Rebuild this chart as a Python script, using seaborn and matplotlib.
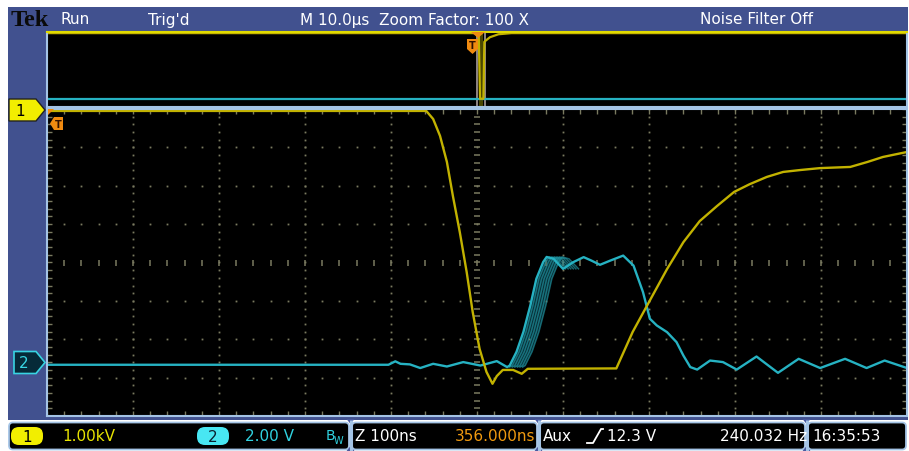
import numpy as np
import matplotlib
matplotlib.use("Agg")
import matplotlib.pyplot as plt
import seaborn as sns
from matplotlib.patches import Rectangle, FancyBboxPatch, Polygon
from matplotlib import font_manager

# ---------------- data ----------------
# Channel 1 (1.00 kV/div), zoomed time base 100 ns/div, time from left edge
ch1_t_ns = [0, 441, 449, 457, 465, 472, 480, 488, 495, 503,
            511, 518, 523, 530, 542, 552, 559, 662, 681, 700,
            721, 740, 759, 779, 799, 817, 837, 856, 876, 899,
            934, 954, 972, 1000]
ch1_kv = [-0.05, -0.05, -0.26, -0.70, -1.38, -2.27, -3.21, -4.25, -5.29, -6.25,
          -6.85, -7.16, -6.96, -6.80, -6.80, -6.90, -6.77, -6.76, -5.81, -5.03,
          -4.17, -3.47, -2.92, -2.53, -2.16, -1.96, -1.77, -1.64, -1.59, -1.54,
          -1.51, -1.38, -1.25, -1.12]

# Channel 2 (2.00 V/div)
ch2_t_ns = [0, 397, 405, 411, 422, 434, 449, 465, 484, 504,
            523, 535, 538, 546, 554, 562, 569, 577, 581, 589,
            600, 612, 624, 633, 643, 655, 670, 682, 693, 701,
            709, 721, 732, 740, 748, 756, 771, 786, 802, 825,
            850, 874, 899, 928, 953, 974, 1000]
ch2_v = [-0.13, -0.13, 0.05, -0.08, -0.11, -0.30, -0.08, -0.22, 0.01, -0.17,
         0.06, -0.25, -0.17, 0.55, 1.59, 2.96, 4.35, 5.23, 5.49, 5.39,
         4.87, 5.22, 5.48, 5.30, 5.08, 5.30, 5.56, 5.04, 3.66, 2.27,
         1.92, 1.57, 1.05, 0.35, -0.25, -0.38, 0.09, 0.01, -0.38, 0.30,
         -0.55, 0.18, -0.30, 0.18, -0.30, 0.09, -0.30]
# persistence (earlier acquisitions of the ch2 rising edge), delay in ns
persist_delay_ns = [3, 6, 9, 12, 15, 18]

# Record overview window (10 us/div), levels as fraction of window height
rec_t_us = [0, 50.2, 50.35, 50.75, 50.85, 51.5, 52.5, 54.0, 100]
rec_ch1 = [0.985, 0.985, 0.11, 0.11, 0.87, 0.93, 0.97, 0.985, 0.985]
rec_ch2_t_us = [0, 100]
rec_ch2 = [0.113, 0.113]

ch1_scale_kv, ch1_pos_div = 1.0, 4.0
ch2_scale_v, ch2_pos_div = 2.0, -2.6

header_texts = ["Run", "Trig'd", "M 10.0\u00b5s  Zoom Factor: 100 X", "Noise Filter Off"]

# ---------------- style ----------------
W, H = 909, 452
BLUE = "#41518f"
LIGHT = "#a4c4e6"
YEL = "#c2b200"
CYN = "#26b2c2"
GRID = "#7a7a60"
ORANGE = "#f08a10"

names = {f.name for f in font_manager.fontManager.ttflist}
NARROW = "Liberation Sans Narrow" if "Liberation Sans Narrow" in names else "DejaVu Sans"
FS = 13.5 if NARROW != "DejaVu Sans" else 11
plt.rcParams["font.family"] = [NARROW, "DejaVu Sans"]

fig = plt.figure(figsize=(W / 100, H / 100), dpi=100)
fig.patch.set_facecolor("white")


def pax(x0, y0, x1, y1):
    return [x0 / W, 1 - y1 / H, (x1 - x0) / W, (y1 - y0) / H]


# background (pixel coordinates)
bg = fig.add_axes([0, 0, 1, 1])
bg.set_xlim(0, W)
bg.set_ylim(H, 0)
bg.axis("off")
bg.add_patch(Rectangle((8, 8), 900, 413, color=BLUE, lw=0))

# header texts
bg.text(11, 21, "Tek", family="Liberation Serif", weight="bold", fontsize=17.5,
        color="#0a0a0a", va="center", ha="left")
for xpos, s in zip([60, 148, 300, 700], header_texts):
    bg.text(xpos, 20, s, color="white", fontsize=FS, va="center", ha="left")

# bottom status bar
for x0, x1 in [(9, 349), (352, 537), (540, 805), (808, 906)]:
    bg.add_patch(FancyBboxPatch((x0, 423.5), x1 - x0, 27, boxstyle="round,pad=0,rounding_size=4",
                                facecolor="black", edgecolor=LIGHT, lw=1.3))
for xs in [350.5, 538.5, 806.5]:
    bg.plot([xs, xs], [421, 452], color=LIGHT, lw=2.2, solid_capstyle="butt")
    bg.add_patch(Polygon([[xs - 4, 420], [xs + 4, 420], [xs, 425]], color="#4a5aa0", lw=0))
    bg.add_patch(Polygon([[xs - 4, 452], [xs + 4, 452], [xs, 447]], color="#4a5aa0", lw=0))

bg.add_patch(FancyBboxPatch((11, 428), 32, 18, boxstyle="round,pad=0,rounding_size=8",
                            facecolor="#f2ee00", edgecolor="none"))
bg.text(27, 437.5, "1", color="black", fontsize=FS, ha="center", va="center")
bg.text(62, 437, "1.00kV", color="#e8e400", fontsize=FS, ha="left", va="center")
bg.add_patch(FancyBboxPatch((197, 428), 32, 18, boxstyle="round,pad=0,rounding_size=8",
                            facecolor="#48e6f2", edgecolor="none"))
bg.text(213, 437.5, "2", color="#0a2030", fontsize=FS, ha="center", va="center")
bg.text(245, 437, "2.00 V", color="#30d2e0", fontsize=FS, ha="left", va="center")
bg.text(326, 436, "B", color="#30d2e0", fontsize=FS - 1, ha="left", va="center")
bg.text(334, 441, "W", color="#30d2e0", fontsize=FS - 4, ha="left", va="center")
bg.text(355, 437, "Z 100ns", color="white", fontsize=FS, ha="left", va="center")
bg.text(455, 437, "356.000ns", color="#f09a10", fontsize=FS, ha="left", va="center")
bg.text(543, 437, "Aux", color="white", fontsize=FS, ha="left", va="center")
bg.plot([587, 593, 601, 603], [444, 444, 430, 430], color="white", lw=1.3)
bg.text(607, 437, "12.3 V", color="white", fontsize=FS, ha="left", va="center")
bg.text(720, 437, "240.032 Hz", color="white", fontsize=FS, ha="left", va="center")
bg.text(812, 437, "16:35:53", color="white", fontsize=FS, ha="left", va="center")

# ---------------- record overview window ----------------
top = fig.add_axes(pax(47, 33, 907, 108))
top.set_facecolor("black")
top.set_xlim(0, 100)
top.set_ylim(0, 1)
top.add_patch(Rectangle((50.2, 0.0), 0.55, 1.0, color="#4a4600", lw=0))
sns.lineplot(x=rec_ch2_t_us, y=rec_ch2, ax=top, color=CYN, lw=1.6, sort=False, estimator=None)
sns.lineplot(x=rec_t_us, y=rec_ch1, ax=top, color=YEL, lw=1.6, sort=False, estimator=None)
top.add_patch(Rectangle((50.0, -0.05), 0.95, 1.05, fill=False, edgecolor="#9a8f90", lw=1.3, clip_on=False))
top.set_xticks([])
top.set_yticks([])
top.set_xlabel("")
top.set_ylabel("")
for s, sp in top.spines.items():
    sp.set_color(LIGHT if s != "top" else "#e0da00")
    sp.set_linewidth(1.5)

# ---------------- main (zoomed) graticule ----------------
ax = fig.add_axes(pax(47, 110, 907, 417))
ax.set_facecolor("black")
ax.set_xlim(0, 1000)
ax.set_ylim(-4, 4)
minor_y = np.arange(-4, 4.001, 0.2)
minor_x = np.arange(0, 1000.1, 20)
for k in range(1, 10):
    xv = np.full_like(minor_y, k * 100.0)
    if k == 5:
        ax.plot(xv, minor_y, ls="none", marker="_", ms=5, mew=1.1, color=GRID)
    else:
        ax.plot(xv, minor_y, ls="none", marker="s", ms=1.3, mew=0, color=GRID)
for j in range(-3, 4):
    yv = np.full_like(minor_x, float(j))
    if j == 0:
        ax.plot(minor_x, yv, ls="none", marker="|", ms=5, mew=1.1, color=GRID)
    else:
        ax.plot(minor_x, yv, ls="none", marker="s", ms=1.3, mew=0, color=GRID)
# edge ticks
ax.plot(np.full_like(minor_y, 2.5), minor_y, ls="none", marker="_", ms=4, mew=1, color=GRID)
ax.plot(np.full_like(minor_y, 997.5), minor_y, ls="none", marker="_", ms=4, mew=1, color=GRID)
ax.plot(minor_x, np.full_like(minor_x, -3.95), ls="none", marker="|", ms=4, mew=1, color=GRID)
ax.plot(minor_x, np.full_like(minor_x, 3.95), ls="none", marker="|", ms=4, mew=1, color=GRID)

ch1_div = np.array(ch1_kv) / ch1_scale_kv + ch1_pos_div
ch2_div = np.array(ch2_v) / ch2_scale_v + ch2_pos_div
t2 = np.array(ch2_t_ns, dtype=float)

# persistence of ch2 rising edge
rise = (t2 >= 535) & (t2 <= 581)
edge = (t2 >= 535) & (t2 <= 600)
dmax = max(persist_delay_ns)
poly = np.vstack([np.column_stack([t2[rise], ch2_div[rise]]),
                  np.column_stack([t2[rise][::-1] + dmax, ch2_div[rise][::-1]])])
ax.add_patch(Polygon(poly, closed=True, color="#0b3c44", alpha=0.8, lw=0))
for d in persist_delay_ns:
    sns.lineplot(x=t2[edge] + d, y=ch2_div[edge], ax=ax, color="#1f8f9c", lw=1.1, alpha=0.7,
                 sort=False, estimator=None)

sns.lineplot(x=ch2_t_ns, y=ch2_div, ax=ax, color=CYN, lw=1.7, sort=False, estimator=None)
sns.lineplot(x=ch1_t_ns, y=ch1_div, ax=ax, color=YEL, lw=1.7, sort=False, estimator=None)
ax.set_xticks([])
ax.set_yticks([])
ax.set_xlabel("")
ax.set_ylabel("")
for sp in ax.spines.values():
    sp.set_color(LIGHT)
    sp.set_linewidth(1.5)

# ---------------- overlay markers (pixel coordinates) ----------------
ov = fig.add_axes([0, 0, 1, 1])
ov.set_xlim(0, W)
ov.set_ylim(H, 0)
ov.axis("off")
ov.patch.set_alpha(0)
# channel 1 ground marker
ov.add_patch(Polygon([[9, 100], [36, 100], [45, 111], [36, 122], [9, 122]],
                     facecolor="#f2ee00", edgecolor="#222222", lw=1))
ov.text(20, 111.5, "1", color="black", fontsize=FS, ha="center", va="center")
# channel 2 ground marker
ov.add_patch(Polygon([[14, 352.5], [36, 352.5], [45, 363.5], [36, 374.5], [14, 374.5]],
                     facecolor="#062a38", edgecolor="#38d4e2", lw=1.2))
ov.text(24, 364, "2", color="#38d4e2", fontsize=FS, ha="center", va="center")
# trigger markers
ov.add_patch(Polygon([[48, 110], [54, 110], [48, 116]], color=ORANGE, lw=0))
ov.add_patch(Polygon([[50, 124.5], [54, 118], [63, 118], [63, 131], [54, 131]], color=ORANGE, lw=0))
ov.text(58.5, 124.5, "T", color="#301000", fontsize=7, weight="bold", ha="center", va="center")
ov.add_patch(Polygon([[471, 33], [485, 33], [478, 39]], color=ORANGE, lw=0))
ov.add_patch(Polygon([[467, 40], [478, 40], [478, 50], [472.5, 55], [467, 50]], color=ORANGE, lw=0))
ov.text(472.5, 46, "T", color="#301000", fontsize=7, weight="bold", ha="center", va="center")

fig.savefig("out.png", dpi=100, facecolor="white")
